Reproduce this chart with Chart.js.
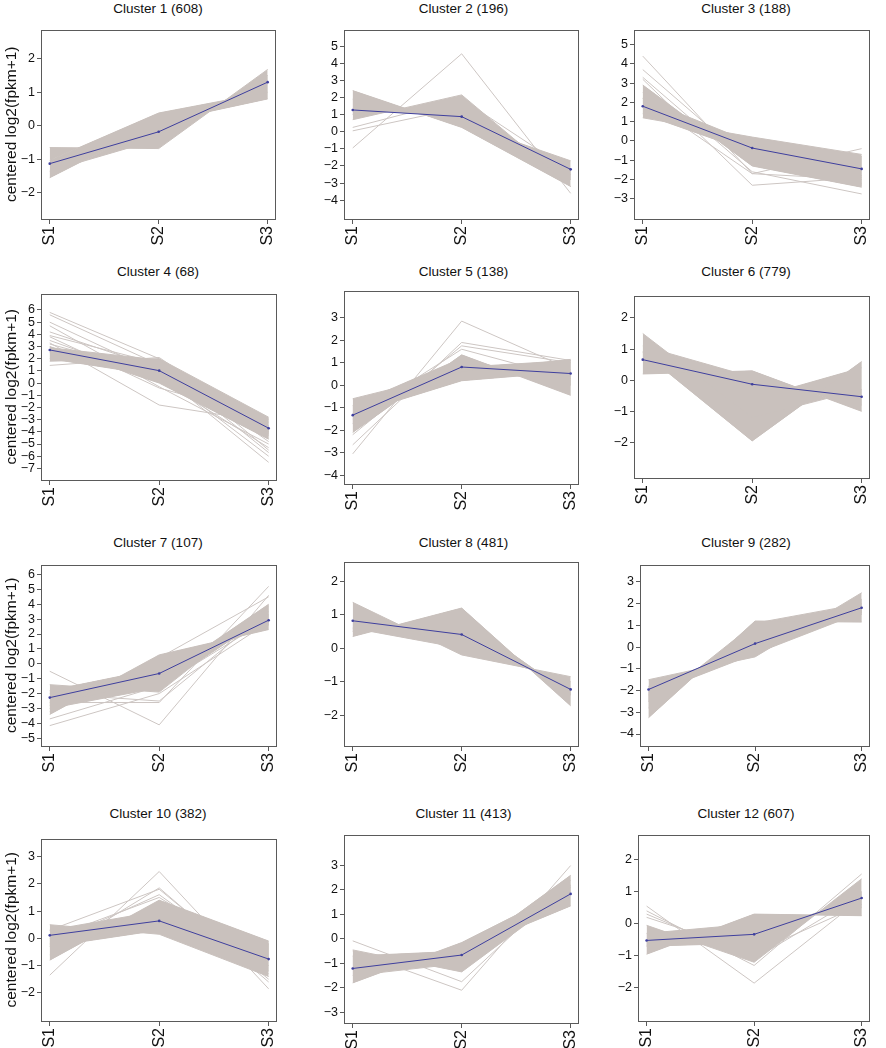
<!DOCTYPE html>
<html><head><meta charset="utf-8">
<script src="https://cdn.jsdelivr.net/npm/chart.js@4.4.0/dist/chart.umd.min.js"></script>
<style>
body{margin:0;background:#fff;width:886px;height:1048px;position:relative;overflow:hidden;font-family:"Liberation Sans",Arial,sans-serif;}
.panel{position:absolute;}
.ttl{position:absolute;font-size:13.5px;color:#111;white-space:nowrap;transform:translate(-50%,-50%);}
</style></head><body>
<script>
// ---------- data ----------
const samples = ['S1', 'S2', 'S3'];
const sampleX = [1, 2, 3];
const clusterCounts = [608, 196, 188, 68, 138, 779, 107, 481, 282, 382, 413, 607];

const c1Mean = [-1.13, -0.18, 1.30];
const c1Band = [[-0.65, -0.68, 1.68], [-1.03, 0.38, 1.00], [-1.55, 0.10, 0.80], [-1.35, -0.40, 1.50]];
const c1Extra = [];
const c1Ticks = [-2, -1, 0, 1, 2];

const c2Mean = [1.27, 0.88, -2.20];
const c2Band = [[0.7, 2.15, -3.2], [2.4, 0.25, -3.2], [1.3, 0.9, -2.2], [1.0, 1.7, -2.8], [1.9, 0.5, -1.7]];
const c2Extra = [[-0.95, 4.55, -3.6], [0.05, 1.4, -2.5], [0.25, 1.9, -2.3]];
const c2Ticks = [-4, -3, -2, -1, 0, 1, 2, 3, 4, 5];

const c3Mean = [1.80, -0.37, -1.45];
const c3Band = [[1.2, 0.2, -0.7], [2.9, -1.3, -2.4], [2.5, -0.9, -1.8], [1.4, -0.6, -0.8], [1.8, -0.4, -1.45], [2.2, -0.1, -2.3]];
const c3Extra = [[4.4, -1.7, -2.0], [3.7, -1.2, -2.2], [3.2, -2.3, -1.9], [3.3, -1.6, -2.75], [2.2, -1.7, -0.4]];
const c3Ticks = [-3, -2, -1, 0, 1, 2, 3, 4, 5];

const c4Mean = [2.72, 1.02, -3.70];
const c4Band = [[1.8, 2.0, -2.8], [3.0, 0.0, -4.6], [2.5, 1.2, -3.5], [2.0, 0.6, -4.2], [2.9, 1.9, -3.0]];
const c4Extra = [[5.8, 2.0, -5.5], [5.6, 1.5, -5.7], [5.0, 0.8, -6.5], [4.7, -0.3, -5.0], [3.9, 1.6, -4.8], [3.5, 0.3, -5.3],
                 [3.3, -1.8, -3.2], [1.45, 2.1, -4.0], [3.2, 0.8, -6.0], [4.2, 1.2, -4.3], [3.8, -0.4, -2.9]];
const c4Ticks = [-7, -6, -5, -4, -3, -2, -1, 0, 1, 2, 3, 4, 5, 6];

const c5Mean = [-1.33, 0.81, 0.52];
const c5Band = [[-0.6, 0.6, 1.15], [-2.1, 1.35, -0.45], [-1.3, 0.2, 0.6], [-0.9, 1.2, 0.0], [-1.7, 0.8, 1.1], [-1.35, 0.8, 0.5]];
const c5Extra = [[-3.05, 2.85, 0.7], [-2.65, 1.9, 1.1], [-2.2, 1.75, 1.0], [-1.5, 1.6, 0.3]];
const c5Ticks = [-4, -3, -2, -1, 0, 1, 2, 3];

const c6Mean = [0.66, -0.13, -0.53];
const c6Band = [[1.5, -1.2, -0.3], [0.2, 0.3, -1.0], [0.9, -1.95, 0.6], [0.9, -0.6, 0.4], [0.65, -0.12, -0.53], [1.1, 0.1, -0.8]];
const c6Extra = [];
const c6Ticks = [-2, -1, 0, 1, 2];

const c7Mean = [-2.27, -0.65, 2.93];
const c7Band = [[-1.4, -1.9, 3.9], [-3.4, 0.6, 2.3], [-2.3, -0.65, 2.9], [-2.8, -1.0, 4.0], [-1.8, -0.3, 2.6], [-3.0, -1.6, 3.3]];
const c7Extra = [[-3.7, -1.5, 3.0], [-4.15, -2.0, 2.8], [-0.5, -4.1, 4.6], [-2.6, -2.6, 5.2], [-3.2, 0.4, 4.5], [-2.0, -2.5, 3.5]];
const c7Ticks = [-5, -4, -3, -2, -1, 0, 1, 2, 3, 4, 5, 6];

const c8Mean = [0.82, 0.41, -1.23];
const c8Band = [[1.37, -0.2, -0.85], [0.35, 1.2, -1.72], [0.8, 0.4, -1.22], [0.5, 0.9, -1.4], [0.6, 0.0, -1.0]];
const c8Extra = [];
const c8Ticks = [-2, -1, 0, 1, 2];

const c9Mean = [-1.95, 0.16, 1.81];
const c9Band = [[-1.5, -0.45, 2.5], [-3.25, 1.2, 1.15], [-1.95, 0.15, 1.8], [-2.5, 0.6, 1.5], [-1.8, -0.2, 2.2], [-2.2, -0.3, 1.6], [-2.8, 1.1, 2.0]];
const c9Extra = [];
const c9Ticks = [-4, -3, -2, -1, 0, 1, 2, 3];

const c10Mean = [0.11, 0.64, -0.76];
const c10Band = [[0.5, 0.15, -1.4], [-0.8, 1.4, -0.1], [0.1, 0.65, -0.75], [-0.3, 0.3, -0.2], [0.3, 1.0, -1.2]];
const c10Extra = [[-1.35, 2.45, -1.85], [-0.6, 1.85, -1.6], [0.3, 1.8, -1.5], [-0.2, 1.6, -1.3], [0.0, 1.5, -1.0]];
const c10Ticks = [-2, -1, 0, 1, 2, 3];

const c11Mean = [-1.21, -0.66, 1.84];
const c11Band = [[-0.45, -1.35, 1.95], [-1.8, -0.15, 2.1], [-1.2, -0.65, 2.6], [-0.7, -0.5, 1.35], [-1.5, -1.0, 2.2]];
const c11Extra = [[-0.08, -1.75, 2.4], [-0.5, -2.1, 3.0]];
const c11Ticks = [-3, -2, -1, 0, 1, 2, 3];

const c12Mean = [-0.52, -0.33, 0.80];
const c12Band = [[-0.05, -1.2, 1.4], [-0.95, 0.3, 0.25], [-0.5, -0.3, 0.8], [-0.7, -0.6, 1.0], [-0.3, 0.0, 0.5]];
const c12Extra = [[0.55, -1.85, 0.8], [0.4, -1.3, 1.55], [0.3, -1.1, 0.9], [0.2, -0.9, 0.6]];
const c12Ticks = [-2, -1, 0, 1, 2];

const yLimits = [[-2.78, 2.87], [-5.1, 5.97], [-4.05, 5.78], [-7.95, 7.35], [-4.39, 4.21], [-3.14, 2.72],
                 [-5.52, 6.67], [-2.92, 2.59], [-4.55, 3.8], [-3.03, 3.66], [-3.44, 4.27], [-3.03, 2.78]];

const means = [c1Mean, c2Mean, c3Mean, c4Mean, c5Mean, c6Mean, c7Mean, c8Mean, c9Mean, c10Mean, c11Mean, c12Mean];
const bands = [c1Band, c2Band, c3Band, c4Band, c5Band, c6Band, c7Band, c8Band, c9Band, c10Band, c11Band, c12Band];
const extras = [c1Extra, c2Extra, c3Extra, c4Extra, c5Extra, c6Extra, c7Extra, c8Extra, c9Extra, c10Extra, c11Extra, c12Extra];
const yTicks = [c1Ticks, c2Ticks, c3Ticks, c4Ticks, c5Ticks, c6Ticks, c7Ticks, c8Ticks, c9Ticks, c10Ticks, c11Ticks, c12Ticks];

// ---------- layout ----------
const boxes = [[41, 22, 286, 217], [344, 22, 589, 217], [634, 22, 880, 217],
               [41, 286, 287, 478], [344, 283, 589, 482], [634, 288, 880, 476],
               [41, 557, 287, 744], [344, 554, 589, 744], [640, 557, 880, 744],
               [41, 831, 287, 1019], [344, 827, 589, 1021], [638, 827, 880, 1019]];
const rowTitleY = [8, 271, 542, 813];
const colTitleX = [158, 463.5, 746];

const FONT = '"Liberation Sans", Arial, sans-serif';
const GRAY = '#c9c1bd', GRAY2 = '#cdc6c3', BLUE = '#3e3f9e', AXIS = '#5a5a5a', TXT = '#111';

const boxPlugin = {
  id: 'box',
  afterDraw(chart) {
    const a = chart.chartArea, c = chart.ctx;
    c.save();
    c.strokeStyle = AXIS; c.lineWidth = 1;
    c.strokeRect(Math.round(a.left) + 0.5, Math.round(a.top) + 0.5, Math.round(a.right - a.left) - 1, Math.round(a.bottom - a.top) - 1);
    c.restore();
  }
};

function pts(v) { return v.map((y, i) => ({ x: sampleX[i], y })); }
function fmt(v) { return v < 0 ? '\u2212' + Math.abs(v) : String(v); }

for (let k = 0; k < 12; k++) {
  const [L, T, R, B] = boxes[k];
  const W = R - L + 44, H = B - T + 40;
  const div = document.createElement('div');
  div.className = 'panel';
  div.style.left = (L - 41) + 'px';
  div.style.top = (T - 2) + 'px';
  const cv = document.createElement('canvas');
  cv.width = W; cv.height = H;
  cv.style.width = W + 'px'; cv.style.height = H + 'px';
  div.appendChild(cv);
  document.body.appendChild(div);

  const t = document.createElement('div');
  t.className = 'ttl';
  t.textContent = 'Cluster ' + (k + 1) + ' (' + clusterCounts[k] + ')';
  t.style.left = colTitleX[k % 3] + 'px';
  t.style.top = rowTitleY[Math.floor(k / 3)] + 'px';
  document.body.appendChild(t);

  const ds = [{ data: pts(means[k]), borderColor: BLUE, borderWidth: 1, pointRadius: 1.3,
                pointBackgroundColor: BLUE, pointBorderWidth: 0, fill: false }];
  const band = bands[k];
  band.forEach((v, i) => ds.push({ data: pts(v), borderColor: GRAY, backgroundColor: GRAY, borderWidth: 1,
                                   pointRadius: 0, fill: i < band.length - 1 ? '+1' : false }));
  extras[k].forEach(v => ds.push({ data: pts(v), borderColor: GRAY2, borderWidth: 1, pointRadius: 0, fill: false }));

  const isLeft = k % 3 === 0;
  new Chart(cv, {
    type: 'line',
    data: { datasets: ds },
    options: {
      responsive: false, animation: false,
      layout: { padding: { top: 2, right: 3, left: 0, bottom: 0 } },
      elements: { line: { tension: 0 } },
      plugins: { legend: { display: false }, tooltip: { enabled: false } },
      scales: {
        x: {
          type: 'linear', min: 0.92, max: 3.08,
          afterBuildTicks: s => { s.ticks = sampleX.map(v => ({ value: v })); },
          afterFit: s => { s.height = 36; },
          ticks: { callback: (v, i) => samples[i], minRotation: 90, maxRotation: 90, autoSkip: false,
                   font: { size: 16, family: FONT }, color: TXT, padding: 2 },
          grid: { drawOnChartArea: false, drawTicks: true, tickLength: 5, color: AXIS },
          border: { display: false }
        },
        y: {
          type: 'linear', min: yLimits[k][0], max: yLimits[k][1],
          afterBuildTicks: s => { s.ticks = yTicks[k].map(v => ({ value: v })); },
          afterFit: s => { s.width = 41; },
          ticks: { callback: v => fmt(v), font: { size: 12.5, family: FONT }, color: TXT, padding: 2, autoSkip: false },
          grid: { drawOnChartArea: false, drawTicks: true, tickLength: 4, color: AXIS },
          border: { display: false },
          title: { display: isLeft, text: 'centered log2(fpkm+1)', font: { size: 15.5, family: FONT }, color: TXT,
                   padding: { top: 2, bottom: 0 } }
        }
      }
    },
    plugins: [boxPlugin]
  });
}
</script></body></html>
